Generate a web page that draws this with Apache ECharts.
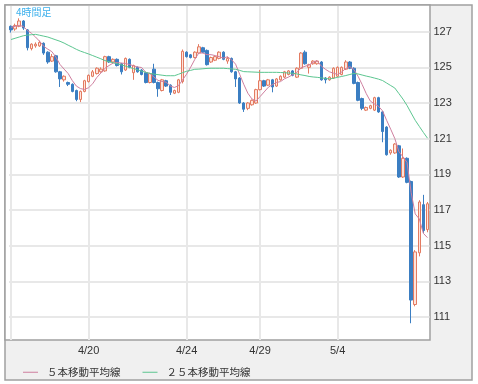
<!DOCTYPE html>
<html><head><meta charset="utf-8">
<script src="https://cdn.jsdelivr.net/npm/echarts@6/dist/echarts.min.js"></script>
<style>html,body{margin:0;padding:0;background:#fff}#c{width:478px;height:384px}</style>
</head><body><div id="c"></div>
<script>
const opens = [127.3,127.15,127.3,127.6,127.1,126.05,126.2,126.2,126.35,125.85,
125.35,125.65,124.75,124.3,124.15,124.05,123.7,123.2,123.65,124.2,
124.5,124.65,124.75,124.8,125.6,125.3,125.45,125.2,124.85,125.45,
124.7,125.0,124.85,124.7,124.15,124.9,124.15,123.7,124.25,124.0,
123.55,123.6,124.2,125.85,125.7,125.55,125.8,126.1,125.95,125.3,
125.4,125.5,125.85,125.35,125.5,124.75,124.4,123.0,122.7,122.9,
123.0,123.75,124.25,124.0,124.3,123.95,124.3,124.45,124.6,124.8,
124.45,124.95,125.85,125.0,125.2,125.2,125.3,124.4,124.3,124.4,
124.5,124.6,124.9,125.3,124.95,124.15,123.25,122.6,122.7,122.6,
123.3,122.5,121.65,120.2,120.2,120.6,118.85,119.9,118.6,111.7,
114.6,117.3,115.9];
const closes = [127.1,127.35,127.6,127.2,126.1,126.3,126.3,126.4,125.8,125.3,
125.6,124.75,124.35,124.5,124.05,123.65,123.2,123.65,124.25,124.55,
124.75,124.95,124.9,125.6,125.3,125.45,125.1,124.75,125.5,125.0,
125.1,124.75,124.6,124.15,124.65,124.15,123.8,124.3,123.95,123.6,
123.7,124.3,125.9,125.6,125.55,125.85,126.15,125.85,125.15,125.55,
125.6,125.85,125.45,125.5,124.75,124.35,123.0,122.65,123.0,123.15,
123.75,124.25,123.95,124.3,123.9,124.35,124.5,124.75,124.8,124.55,
124.95,125.8,125.2,125.15,125.35,125.35,124.3,124.3,124.45,124.95,
125.0,125.0,125.3,124.95,124.1,123.15,122.7,122.75,122.85,123.3,
122.5,121.4,120.1,120.35,120.7,118.85,119.9,118.55,111.95,114.65,
117.45,115.85,117.35];
const lows = [126.95,127.05,127.25,127.1,125.95,125.95,126.1,126.15,125.7,125.2,
125.3,124.7,123.9,124.2,123.95,123.6,123.1,123.05,123.6,124.15,
124.45,124.6,124.7,124.75,125.25,125.2,125.05,124.6,124.8,124.95,
124.3,124.7,124.55,124.1,124.1,124.1,123.35,123.65,123.9,123.45,
123.5,123.55,124.1,125.55,125.5,125.5,125.75,125.8,125.1,125.25,
125.35,125.45,125.4,125.2,124.7,123.9,122.95,122.5,122.6,122.85,
122.95,123.7,123.9,123.95,123.6,123.9,124.25,124.4,124.55,124.5,
124.4,124.9,125.15,124.65,125.15,125.15,124.25,124.1,124.25,124.35,
124.45,124.55,124.85,124.9,124.05,123.1,122.6,122.55,122.65,122.55,
122.45,120.8,120.05,120.1,120.15,118.8,118.8,118.5,110.65,111.6,
114.4,115.7,115.75];
const highs = [127.35,127.45,127.75,127.65,127.15,126.35,126.4,126.5,126.4,125.9,
125.75,125.7,124.8,124.55,124.2,124.1,123.75,123.7,124.3,124.6,
124.85,125.0,125.0,125.65,125.65,125.5,125.5,125.25,125.55,125.5,
125.15,125.05,124.9,124.75,124.7,125.2,124.2,124.35,124.3,124.05,
123.75,124.35,126.0,125.9,125.75,125.9,126.3,126.15,126.0,125.6,
125.65,125.9,125.9,125.6,125.55,124.8,124.45,123.05,123.05,123.2,
123.8,124.85,124.3,124.35,124.35,124.4,124.55,124.8,124.85,124.85,
125.0,125.85,125.95,125.2,125.4,125.4,125.35,124.45,124.5,125.0,
125.05,125.05,125.4,125.35,125.0,124.2,123.3,122.8,122.9,123.35,
123.35,122.55,121.7,120.4,120.75,120.65,120.45,119.95,118.65,114.75,
117.55,117.85,117.45];
const ma5 = [127.25,127.3,127.35,127.3,127.07,126.91,126.70,126.46,126.18,126.02,
125.88,125.57,125.16,124.90,124.65,124.26,123.95,123.81,123.76,123.86,
124.08,124.43,124.68,124.95,125.10,125.24,125.27,125.24,125.22,125.16,
125.09,125.02,124.99,124.72,124.65,124.46,124.27,124.21,124.17,123.96,
123.87,123.97,124.29,124.62,125.01,125.44,125.81,125.80,125.71,125.71,
125.66,125.60,125.52,125.59,125.43,125.18,124.61,124.05,123.55,123.23,
123.11,123.36,123.62,123.88,124.03,124.15,124.20,124.36,124.46,124.59,
124.71,124.97,125.06,125.13,125.29,125.37,125.07,124.89,124.75,124.67,
124.60,124.74,124.94,125.04,124.87,124.50,124.04,123.53,123.11,122.95,
122.82,122.56,122.03,121.53,121.01,120.28,119.98,119.67,117.99,116.78,
116.50,115.69,115.45];
const ma25 = [126.56,126.63,126.70,126.77,126.81,126.83,126.85,126.80,126.75,126.70,
126.62,126.54,126.46,126.36,126.24,126.13,126.01,125.91,125.83,125.75,
125.66,125.57,125.48,125.38,125.32,125.26,125.20,125.14,125.07,125.00,
124.93,124.86,124.79,124.72,124.66,124.62,124.59,124.56,124.53,124.53,
124.53,124.61,124.70,124.78,124.83,124.89,124.90,124.92,124.94,124.95,
124.95,124.95,124.95,124.93,124.91,124.89,124.83,124.76,124.75,124.74,
124.73,124.72,124.72,124.72,124.72,124.72,124.71,124.70,124.68,124.67,
124.63,124.58,124.54,124.49,124.46,124.44,124.41,124.38,124.35,124.39,
124.44,124.49,124.54,124.60,124.66,124.63,124.57,124.51,124.46,124.40,
124.34,124.26,124.12,123.98,123.84,123.53,123.22,122.86,122.44,122.03,
121.69,121.35,121.03];
const yTicks = [111,113,115,117,119,121,123,125,127];
const tickLabels = {19:'4/20', 43:'4/24', 61:'4/29', 80:'5/4'};
const gridIdx = [0,19,43,61,80];
const seriesNames = ['５本移動平均線','２５本移動平均線'];

const categories = closes.map((_, i) => String(i));
const rows = closes.map((c, i) => [opens[i], c, lows[i], highs[i]]);

const chart = echarts.init(document.getElementById('c'), null, {renderer:'canvas'});
chart.setOption({
  animation:false,
  backgroundColor:'#fff',
  graphic:[
    {type:'rect', z:-10, silent:true, shape:{x:5, y:5, width:467, height:375},
     style:{fill:'#f0f0f0', stroke:'#a0a0a0', lineWidth:1.5}},
    {type:'rect', z:-9, silent:true, shape:{x:5, y:5, width:425, height:335},
     style:{fill:'#ffffff', stroke:'#a0a0a0', lineWidth:1.5}}
  ],
  title:{text:'4時間足', left:16, top:7, padding:0,
    textStyle:{fontSize:10, fontWeight:'normal', color:'#3db0ec', fontFamily:'Noto Sans CJK JP'}},
  legend:{left:18, top:362, itemWidth:15, itemHeight:1, icon:'rect', itemGap:22,
    textStyle:{fontSize:10.5, color:'#333', fontFamily:'Noto Sans CJK JP', padding:[0,0,0,4]},
    data:seriesNames},
  grid:{left:9, right:48.5, top:6, bottom:44},
  xAxis:{type:'category', data:categories, boundaryGap:true,
    axisLine:{show:false}, axisTick:{show:false}, splitLine:{show:false},
    axisLabel:{interval:0, formatter:(v)=>tickLabels[v]||'', fontSize:11, color:'#333', margin:5, fontFamily:'Liberation Sans'}},
  yAxis:{type:'value', position:'right', min:109.71, max:128.44,
    axisLine:{show:false}, axisTick:{show:false}, splitLine:{show:false},
    axisLabel:{customValues:yTicks, fontSize:11, color:'#333', margin:4, fontFamily:'Liberation Sans'}},
  series:[
    {type:'candlestick', data:rows, barWidth:3, z:2,
      itemStyle:{color:'#fde4dc', color0:'#3b7ec2', borderColor:'#e37b61', borderColor0:'#3b7ec2', borderWidth:1},
      markLine:{z:1, silent:true, symbol:['none','none'], animation:false, label:{show:false},
        lineStyle:{color:'#e8e8e8', width:2, type:'solid'},
        emphasis:{disabled:true},
        data:[...gridIdx.map(i=>({xAxis:i})), ...yTicks.map(v=>({yAxis:v}))]}},
    {type:'line', name:seriesNames[0], data:ma5, symbol:'none', z:3,
      lineStyle:{color:'#cf7f9f', width:1}, itemStyle:{color:'#cf7f9f'}},
    {type:'line', name:seriesNames[1], data:ma25, symbol:'none', z:3,
      lineStyle:{color:'#5cc690', width:1}, itemStyle:{color:'#5cc690'}}
  ]
});
</script></body></html>
